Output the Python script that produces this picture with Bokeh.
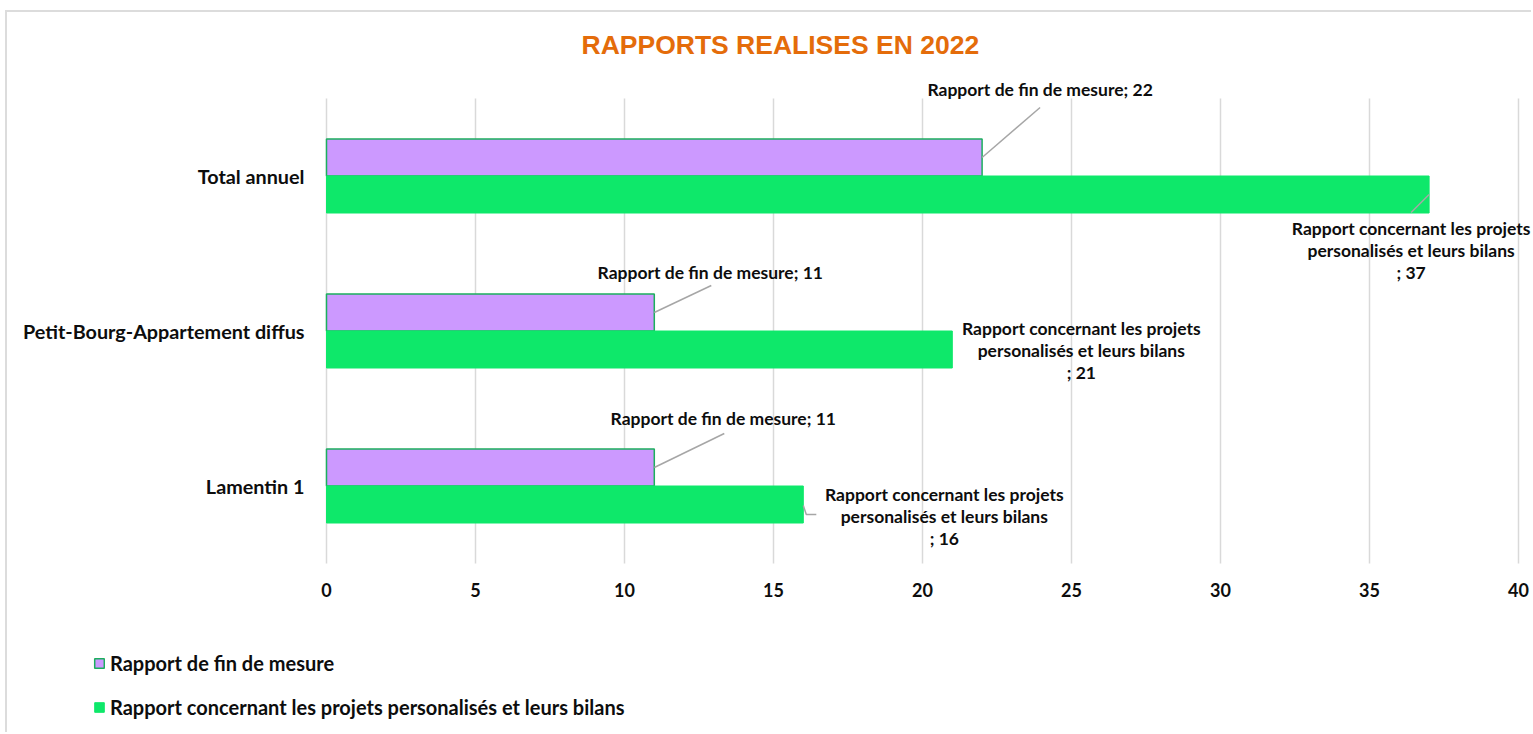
import textwrap
from bokeh.plotting import figure
from bokeh.models import ColumnDataSource, Legend, LegendItem, Range1d
from bokeh.core.properties import value
from bokeh.embed import file_html
from bokeh.resources import INLINE

# ---------------- data ----------------
categories = ["Lamentin 1", "Petit-Bourg-Appartement diffus", "Total annuel"]
series_names = ["Rapport de fin de mesure",
                "Rapport concernant les projets personalisés et leurs bilans"]
fin_de_mesure = [11, 11, 22]
projets_bilans = [16, 21, 37]
x_ticks = [0, 5, 10, 15, 20, 25, 30, 35, 40]
title_text = "RAPPORTS REALISES EN 2022"

# ---------------- layout (page px) ----------------
PAGE_W, PAGE_H = 1533, 734
OX, OY = 7, 12                  # figure offset (chart border drawn just outside)
W, H = PAGE_W - OX, PAGE_H - OY
X0_PG, X40_PG = 326, 1518       # x = 0 / x = 40
FRAME_TOP_PG = 70
AREA_TOP_PG, AREA_BOT_PG = 98, 563
XMAX = 40
px_x = XMAX / (X40_PG - X0_PG)
px_y = 3.0 / (AREA_BOT_PG - AREA_TOP_PG)
x_start = (OX - X0_PG) * px_x
x_end = XMAX + (PAGE_W - X40_PG) * px_x
y_top = 2.5 + (AREA_TOP_PG - FRAME_TOP_PG) * px_y
y_bottom = -0.5 - (PAGE_H - AREA_BOT_PG) * px_y
bar_h = 37 * px_y
half = bar_h / 2

PURPLE = "#CC99FF"
PURPLE_EDGE = "#1BAF5E"
GREEN = "#0EE86A"
GRID = "#D9D9D9"
TXT = "#0D0D0D"
FONT = "Lato"

p = figure(width=W, height=H, output_backend="svg", toolbar_location=None,
           x_range=Range1d(x_start, x_end), y_range=Range1d(y_bottom, y_top),
           x_axis_location=None, y_axis_location=None,
           min_border_left=0, min_border_right=0, min_border_bottom=0,
           min_border_top=FRAME_TOP_PG - OY)
p.margin = (OY, 0, 0, OX)
p.styles = {"box-shadow": "-2px -2px 0 0 #DCDCDC"}
p.outline_line_color = None
p.grid.grid_line_color = None

# title
p.title.text = title_text
p.title.align = "left"
p.title.offset = 581 - OX
p.title.standoff = 22
p.title.text_font = "Liberation Sans"
p.title.text_font_style = "bold"
p.title.text_font_size = "26.5px"
p.title.text_color = "#E46C0A"

idx = list(range(len(categories)))

# vertical gridlines over the plot area
p.segment(x0=x_ticks, x1=x_ticks, y0=-0.5, y1=2.5, line_color=GRID, line_width=1.5)

# value-axis tick labels and category labels
p.text(x=x_ticks, y=[-0.5] * len(x_ticks), text=[str(t) for t in x_ticks],
       y_offset=26, text_align="center", text_baseline="middle",
       text_font=value(FONT), text_font_style="bold", text_font_size="18px",
       text_color=TXT)
p.text(x=[0] * len(categories), y=idx, text=categories, x_offset=-22,
       text_align="right", text_baseline="middle",
       text_font=value(FONT), text_font_style="bold", text_font_size="19.8px",
       text_color=TXT)

# bars
src = ColumnDataSource(dict(
    y_top=[i + half for i in idx],
    y_bot=[i - half for i in idx],
    fin=fin_de_mesure,
    proj=projets_bilans,
))
r1 = p.hbar(y="y_top", left=0, right="fin", height=bar_h, source=src,
            fill_color=PURPLE, line_color=PURPLE_EDGE, line_width=1.5)
r2 = p.hbar(y="y_bot", left=0, right="proj", height=bar_h, source=src,
            fill_color=GREEN, line_color=GREEN, line_width=1)

# data labels (offsets in px from bar end / bar centre; y down-positive)
purple_lbl_off = [(69, -49), (56, -40), (58, -68)]
green_lbl_off = [(141, 12), (129, 1), (-18, 56)]
purple_lead = [[(0, 0), (70, -34)], [(0, 0), (57, -27)], [(0, 0), (58, -50)]]
green_lead = [[(0, 1), (3, 10), (13, 10)], None, [(0, 0), (-18, 18)]]

lab_x, lab_y, lab_t, lab_dx, lab_dy = [], [], [], [], []
for i in idx:
    lab_x.append(fin_de_mesure[i]); lab_y.append(i + half)
    lab_t.append(f"{series_names[0]}; {fin_de_mesure[i]}")
    lab_dx.append(purple_lbl_off[i][0]); lab_dy.append(purple_lbl_off[i][1])
    lab_x.append(projets_bilans[i]); lab_y.append(i - half)
    lab_t.append("\n".join(textwrap.wrap(series_names[1], 30)) + f"\n; {projets_bilans[i]}")
    lab_dx.append(green_lbl_off[i][0]); lab_dy.append(green_lbl_off[i][1])

lsrc = ColumnDataSource(dict(x=lab_x, y=lab_y, t=lab_t, dx=lab_dx, dy=lab_dy))
p.text(x="x", y="y", text="t", x_offset="dx", y_offset="dy", source=lsrc,
       text_align="center", text_baseline="middle",
       text_font=value(FONT), text_font_style="bold", text_font_size="17.5px",
       text_color=TXT, text_line_height=1.07)

xs, ys = [], []
for i in idx:
    for vals, yc, lead in ((fin_de_mesure, i + half, purple_lead[i]),
                           (projets_bilans, i - half, green_lead[i])):
        if lead is None:
            continue
        xs.append([vals[i] + dx * px_x for dx, dy in lead])
        ys.append([yc - dy * px_y for dx, dy in lead])
p.multi_line(xs=xs, ys=ys, line_color="#A6A6A6", line_width=1.5)

# legend (bottom-left, inside the frame)
legend = Legend(items=[LegendItem(label=series_names[0], renderers=[r1]),
                       LegendItem(label=series_names[1], renderers=[r2])],
                location=(93 - OX, 15), orientation="vertical",
                glyph_width=12, glyph_height=12, label_height=20, spacing=20,
                padding=0, margin=0, label_standoff=5,
                border_line_color=None, background_fill_alpha=0,
                label_text_font=FONT, label_text_font_style="bold",
                label_text_font_size="20px", label_text_color=TXT)
p.add_layout(legend, "center")

open("out.html", "w").write(file_html(p, INLINE))
